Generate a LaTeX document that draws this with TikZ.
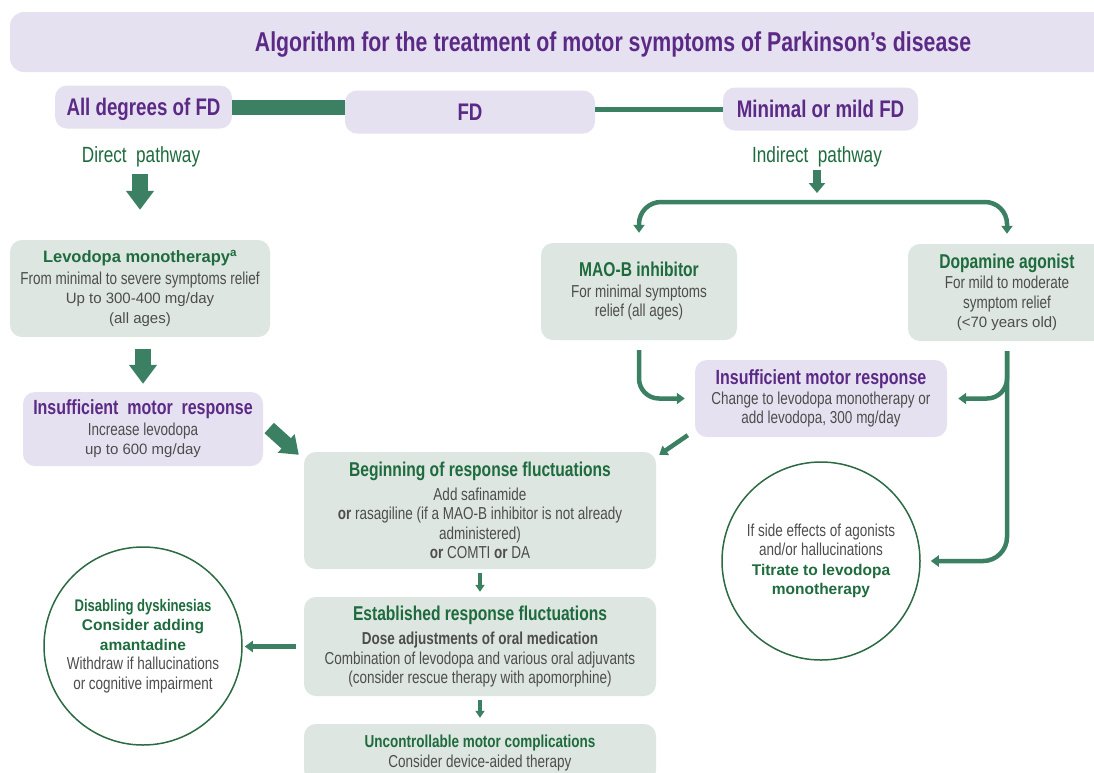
\documentclass[tikz,border=0pt]{standalone}
\usepackage{fontspec}
\setmainfont{Liberation Sans}
\newfontfamily\nar{Liberation Sans}[FakeStretch=0.78]
\usetikzlibrary{arrows.meta}
\definecolor{lav}{HTML}{E6E1F0}
\definecolor{gbox}{HTML}{DDE6E0}
\definecolor{purp}{HTML}{5B2A86}
\definecolor{hgreen}{HTML}{1E6B3E}
\definecolor{agreen}{HTML}{3C8063}
\definecolor{tgray}{HTML}{4D4D4D}
\definecolor{cgreen}{HTML}{2C6A44}
\newcommand\Body{\nar\fontsize{17.3}{19.5}\selectfont}
\newcommand\Hg[1]{{\nar\bfseries\fontsize{20}{19.5}\selectfont\color{hgreen}#1}}
\newcommand\Hp[1]{{\nar\bfseries\fontsize{20.5}{19.5}\selectfont\color{purp}#1}}
\newcommand\Wd[1]{{\normalfont\fontsize{15}{19.5}\selectfont #1}}
\newcommand\Wb[1]{{\normalfont\bfseries\fontsize{15.5}{19.5}\selectfont\color{hgreen}#1}}
\begin{document}
\begin{tikzpicture}[x=1pt,y=-1pt,
  box/.style={rounded corners=12pt, inner sep=0pt, align=center, font=\Body, text=tgray},
  lbox/.style={box, fill=lav},
  gbx/.style={box, fill=gbox},
  topbox/.style={box, fill=lav, minimum height=43pt, text depth=0pt, font=\nar\bfseries\fontsize{24}{24}\selectfont, text=purp},
  circ/.style={circle, draw=cgreen, line width=1.5pt, minimum size=198pt, inner sep=0pt, align=center, font=\Body, text=tgray},
  lbl/.style={inner sep=0pt, font=\nar\fontsize{22}{24}\selectfont, text=hgreen},
  fat/.style={draw=agreen, line width=16pt, -{Triangle[width=27pt,length=19pt]}},
  fatd/.style={draw=agreen, line width=14pt, -{Triangle[width=24pt,length=17pt]}},
  med/.style={draw=agreen, line width=8pt, -{Triangle[width=16pt,length=10pt]}},
  tharr/.style={draw=agreen, line width=4.5pt, -{Triangle[width=11pt,length=8pt]}},
  slim/.style={draw=agreen, line width=3.5pt, -{Triangle[width=9pt,length=7pt]}}
]
\useasboundingbox (0,0) rectangle (1094,772);
\fill[white] (0,0) rectangle (1094,772);

% title
\node[box, fill=lav, rounded corners=14pt, minimum width=1206pt, minimum height=60pt, text depth=0pt,
  font=\nar\bfseries\fontsize{27.3}{30}\selectfont, text=purp] (title) at (613,42)
  {Algorithm for the treatment of motor symptoms of Parkinson’s disease};

% top row
\node[topbox, minimum width=177pt] (alldeg) at (143.5,107) {All degrees of FD};
\node[topbox, minimum width=250pt] (fd) at (470,112) {FD};
\node[topbox, minimum width=195pt] (mild) at (820.5,109) {Minimal or mild FD};
\draw[agreen, line width=15pt] (alldeg.east) -- (alldeg.east -| fd.west);
\draw[agreen, line width=5pt] (mild.west -| fd.east) -- (mild.west);

\node[lbl] (direct) at (141,157) {Direct\ \ pathway};
\node[lbl] (indirect) at (817,157) {Indirect\ \ pathway};
\coordinate (split) at (817,202);

% left column
\node[gbx, minimum width=260pt, minimum height=97pt] (levo) at (140,288.5)
  {{\normalfont\bfseries\fontsize{16.5}{19.5}\selectfont\color{hgreen}Levodopa monotherapy\textsuperscript{a}}\\[2pt]
   From minimal to severe symptoms relief\\
   \Wd{Up to 300-400 mg/day}\\
   \Wd{(all ages)}};
\node[lbox, minimum width=240pt, minimum height=74pt] (lins) at (143,429)
  {\Hp{Insufficient\ \ motor\ \ response}\\[1pt]
   Increase levodopa\\
   \Wd{up to 600 mg/day}};

% right side
\node[gbx, minimum width=196pt, minimum height=97pt] (mao) at (639,291.5)
  {\Hg{MAO-B inhibitor}\\[1pt]
   For minimal symptoms\\
   relief (all ages)};
\node[gbx, minimum width=198pt, minimum height=97pt] (dopa) at (1007,292.5)
  {\Hg{Dopamine agonist}\\[1pt]
   For mild to moderate\\
   symptom relief\\
   \Wd{(<70 years old)}};
\node[lbox, minimum width=252pt, minimum height=77pt] (rins) at (821,398.5)
  {\Hp{Insufficient motor response}\\
   Change to levodopa monotherapy or\\
   add levodopa, 300 mg/day};

% centre column
\node[gbx, minimum width=352pt, minimum height=117pt] (begin) at (480,510.5)
  {\Hg{Beginning of response fluctuations}\\[4pt]
   Add safinamide\\
   \textbf{or} rasagiline (if a MAO-B inhibitor is not already\\
   administered)\\
   \textbf{or} COMTI \textbf{or} DA};
\node[gbx, minimum width=352pt, minimum height=99pt] (est) at (480,646.5)
  {\Hg{Established response fluctuations}\\[5pt]
   \textbf{Dose adjustments of oral medication}\\
   Combination of levodopa and various oral adjuvants\\
   (consider rescue therapy with apomorphine)};
\node[gbx, minimum width=352pt, minimum height=58pt] (unc) at (480,753)
  {{\nar\bfseries\fontsize{17.3}{19.5}\selectfont\color{hgreen}Uncontrollable\ motor\ complications}\\
   Consider device-aided therapy};

% circles
\node[circ] (lcirc) at (143,646)
  {{\nar\bfseries\fontsize{16.8}{19.5}\selectfont\color{hgreen}Disabling dyskinesias}\\
   \Wb{Consider adding}\\
   \Wb{amantadine}\\
   Withdraw if hallucinations\\
   or cognitive impairment};
\node[circ] (rcirc) at (821,561)
  {If side effects of agonists\\
   and/or hallucinations\\
   \Wb{Titrate to levodopa}\\
   \Wb{monotherapy}};

% connectors
\draw[fat] ([yshift=-7pt]direct.south -| levo.north) -- ([yshift=30pt]levo.north);
\draw[fat] ([yshift=-12pt]levo.south -| lins.north) -- ([yshift=8pt]lins.north);
\draw[fatd] ([xshift=6pt,yshift=1pt]lins.east) -- ([xshift=-5pt,yshift=-3pt]begin.north west);

\draw[med] ([yshift=-3pt]indirect.south) -- ([yshift=9pt]split);
\draw[draw=agreen, line width=4.5pt, rounded corners=22pt,
  {Triangle[width=11pt,length=8pt]}-{Triangle[width=11pt,length=8pt]}]
  ([yshift=10pt]mao.north) |- (split) -| ([yshift=10pt]dopa.north);

\draw[tharr, rounded corners=20pt] ([yshift=-10pt]mao.south) |- ([xshift=-10pt]rins.west);
\draw[tharr, rounded corners=24pt] ([yshift=-10pt]dopa.south) |- ([xshift=10pt]rcirc.east);
\draw[tharr, rounded corners=20pt] ([yshift=-10pt]dopa.south) |- ([xshift=11pt]rins.east);
\draw[tharr] ([xshift=-7pt,yshift=2pt]rins.south west) -- ([xshift=3pt,yshift=-3pt]begin.north east);

\draw[slim, shorten <=4pt, shorten >=5pt] (begin) -- (est);
\draw[slim, shorten <=4pt, shorten >=6pt] (est) -- (unc);
\draw[tharr, shorten <=8pt, shorten >=2pt] (est.west) -- (est.west -| lcirc.east);
\end{tikzpicture}
\end{document}
